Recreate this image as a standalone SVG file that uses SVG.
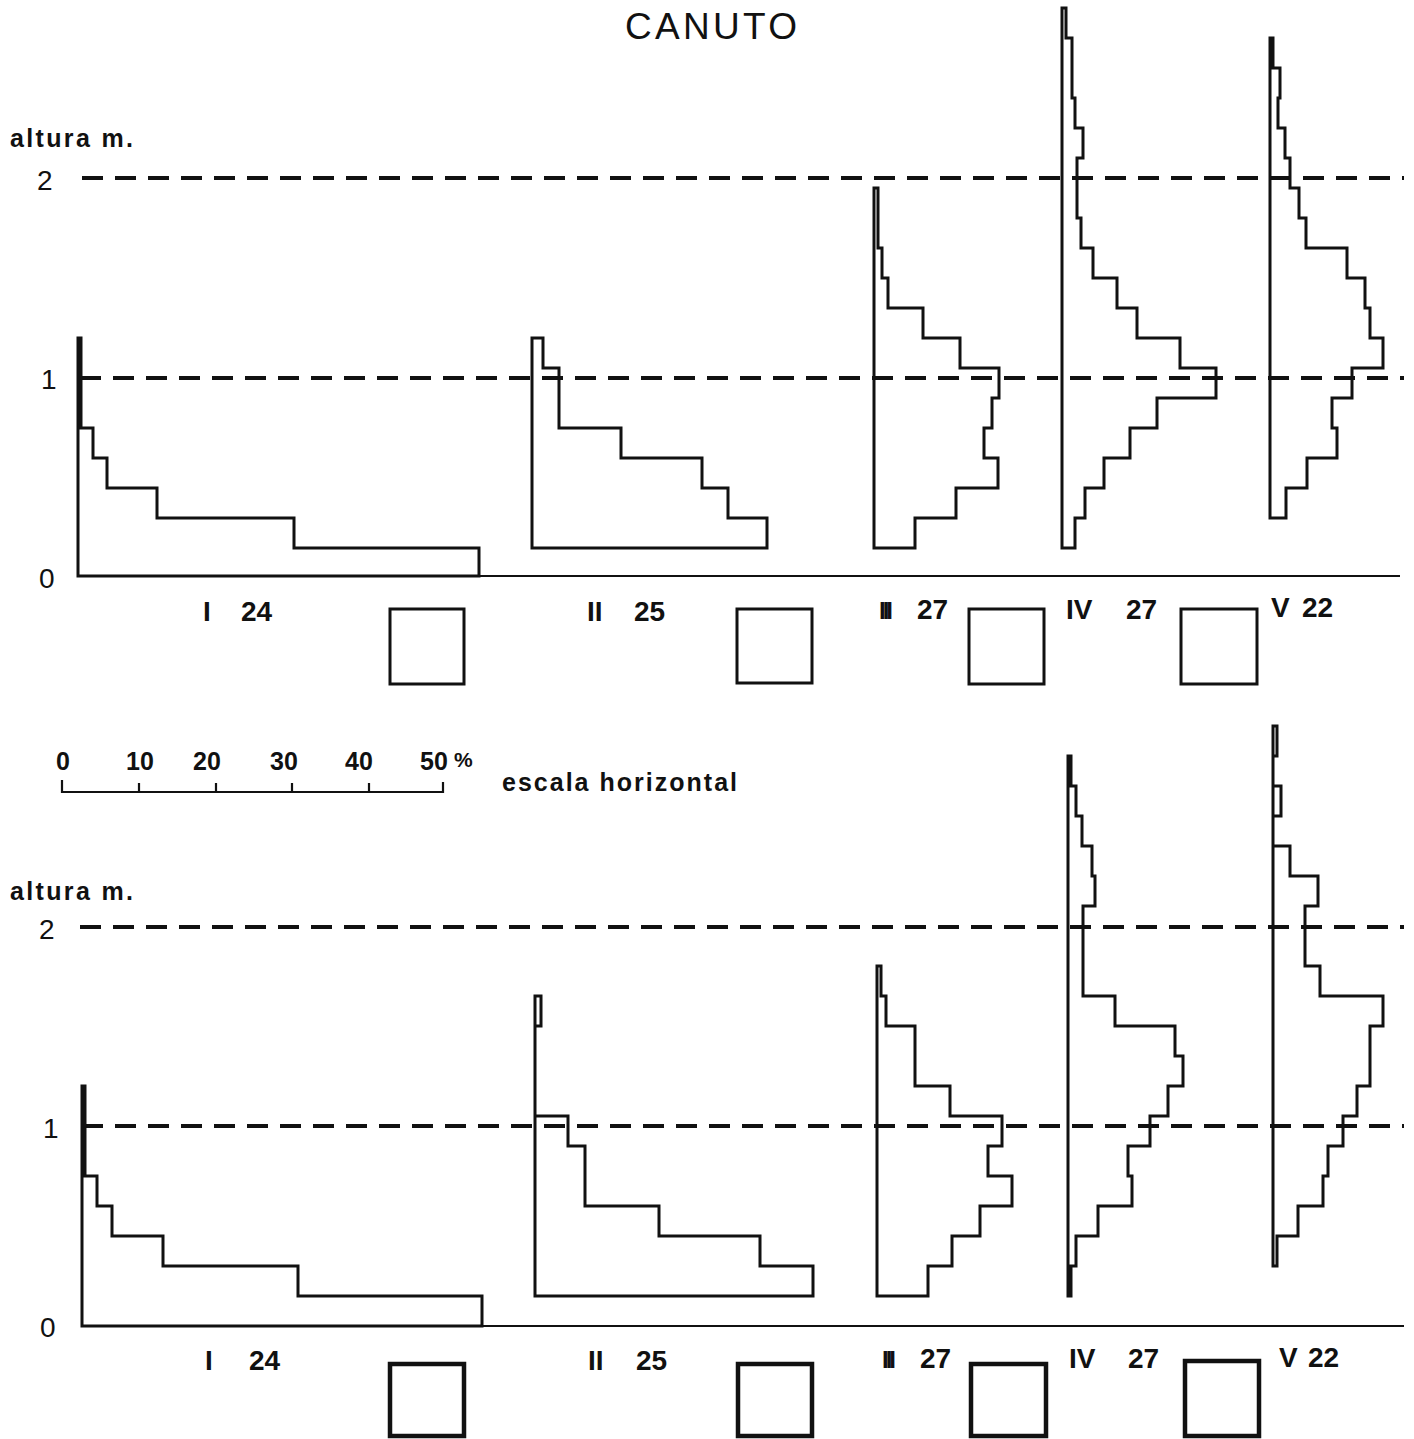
<svg xmlns="http://www.w3.org/2000/svg" width="1414" height="1439" viewBox="0 0 1414 1439">
<style>
  .bg{fill:#ffffff}
  .hist{fill:none;stroke:#111;stroke-width:3;stroke-linejoin:miter}
  .axis{fill:none;stroke:#111;stroke-width:2.2}
  .dash{fill:none;stroke:#111;stroke-width:3.8;stroke-dasharray:21 12}
  .box{fill:none;stroke:#111;stroke-width:3}
  .boxb{fill:none;stroke:#111;stroke-width:4.5}
  .t{font-family:"Liberation Sans","DejaVu Sans",Arial,sans-serif;fill:#111}
  .lbl{font-size:28px;font-weight:bold}
  .num{font-size:28px}
  .small{font-size:25px;font-weight:bold}
</style>
<rect class="bg" x="0" y="0" width="1414" height="1439"/>

<g id="title">
  <text class="t" x="625" y="39" font-size="37" textLength="172" lengthAdjust="spacing">CANUTO</text>
</g>

<g id="top-axes">
  <text class="t small" x="10" y="147" textLength="123" lengthAdjust="spacing">altura m.</text>
  <text class="t num" x="37" y="190">2</text>
  <text class="t num" x="41" y="389">1</text>
  <text class="t num" x="39" y="588">0</text>
  <path class="axis" d="M78,576 H1400"/>
  <path class="dash" d="M82,178 H1404"/>
  <path class="dash" d="M80,378 H1404"/>
</g>

<g id="top-I">
  <path class="hist" d="M78,338 H81 V428 H93 V458 H107 V488 H157 V518 H294 V548 H479 V576 H78 Z"/>
  <text class="t lbl" y="621"><tspan x="203">I</tspan><tspan x="241">24</tspan></text>
  <rect class="box" x="390" y="609" width="74" height="75"/>
</g>
<g id="top-II">
  <path class="hist" d="M532,338 H543 V368 H559 V428 H621 V458 H702 V488 H728 V518 H767 V548 H532 Z"/>
  <text class="t lbl" y="621"><tspan x="587">II</tspan><tspan x="634">25</tspan></text>
  <rect class="box" x="737" y="609" width="75" height="74"/>
</g>
<g id="top-III">
  <path class="hist" d="M874,188 H878 V248 H882 V278 H888 V308 H923 V338 H960 V368 H999 V398 H992 V428 H984 V458 H998 V488 H956 V518 H915 V548 H874 Z"/>
  <text class="t lbl" y="619"><tspan x="879" font-size="24" letter-spacing="-3">III</tspan><tspan x="917">27</tspan></text>
  <rect class="box" x="969" y="609" width="75" height="75"/>
</g>
<g id="top-IV">
  <path class="hist" d="M1062,8 H1066 V38 H1072 V98 H1075 V128 H1083 V158 H1077 V218 H1081 V248 H1093 V278 H1117 V308 H1137 V338 H1180 V368 H1216 V398 H1157 V428 H1130 V458 H1104 V488 H1085 V518 H1075 V548 H1062 Z"/>
  <text class="t lbl" y="619"><tspan x="1066">IV</tspan><tspan x="1126">27</tspan></text>
  <rect class="box" x="1181" y="609" width="76" height="75"/>
</g>
<g id="top-V">
  <path class="hist" d="M1270,38 H1273 V68 H1280 V98 H1278 V128 H1285 V158 H1290 V188 H1299 V218 H1306 V248 H1347 V278 H1365 V308 H1370 V338 H1383 V368 H1352 V398 H1332 V428 H1337 V458 H1307 V488 H1286 V518 H1270 Z"/>
  <text class="t lbl" y="617"><tspan x="1271">V</tspan><tspan x="1302">22</tspan></text>
</g>

<g id="scale">
  <text class="t small" y="770"><tspan x="56">0</tspan><tspan x="126">10</tspan><tspan x="193">20</tspan><tspan x="270">30</tspan><tspan x="345">40</tspan><tspan x="420">50</tspan><tspan x="454" font-size="21" dy="-3">%</tspan></text>
  <path class="axis" d="M62,780 V792 H443 V782 M139,783 V792 M216,783 V792 M292,783 V792 M369,783 V792"/>
  <text class="t small" x="502" y="791" textLength="235" lengthAdjust="spacing">escala horizontal</text>
</g>

<g id="bottom-axes">
  <text class="t small" x="10" y="900" textLength="123" lengthAdjust="spacing">altura m.</text>
  <text class="t num" x="39" y="939">2</text>
  <text class="t num" x="43" y="1138">1</text>
  <text class="t num" x="40" y="1337">0</text>
  <path class="axis" d="M82,1326 H1404"/>
  <path class="dash" d="M80,927 H1404"/>
  <path class="dash" d="M82,1126 H1404"/>
</g>

<g id="bottom-I">
  <path class="hist" d="M82,1086 H85 V1176 H97 V1206 H112 V1236 H163 V1266 H298 V1296 H482 V1326 H82 Z"/>
  <text class="t lbl" y="1370"><tspan x="205">I</tspan><tspan x="249">24</tspan></text>
  <rect class="boxb" x="390" y="1364" width="74" height="72"/>
</g>
<g id="bottom-II">
  <path class="hist" d="M535,996 H541 V1026 H535 V1116 H568 V1146 H585 V1206 H659 V1236 H760 V1266 H813 V1296 H535 Z"/>
  <text class="t lbl" y="1370"><tspan x="588">II</tspan><tspan x="636">25</tspan></text>
  <rect class="boxb" x="738" y="1364" width="74" height="72"/>
</g>
<g id="bottom-III">
  <path class="hist" d="M877,966 H881 V996 H886 V1026 H915 V1086 H950 V1116 H1002 V1146 H988 V1176 H1012 V1206 H980 V1236 H952 V1266 H928 V1296 H877 Z"/>
  <text class="t lbl" y="1368"><tspan x="882" font-size="24" letter-spacing="-3">III</tspan><tspan x="920">27</tspan></text>
  <rect class="boxb" x="971" y="1364" width="75" height="72"/>
</g>
<g id="bottom-IV">
  <path class="hist" d="M1068,756 H1071 V786 H1076 V816 H1082 V846 H1092 V876 H1095 V906 H1083 V996 H1115 V1026 H1175 V1056 H1183 V1086 H1168 V1116 H1150 V1146 H1128 V1176 H1132 V1206 H1098 V1236 H1076 V1266 H1071 V1296 H1068 Z"/>
  <text class="t lbl" y="1368"><tspan x="1069">IV</tspan><tspan x="1128">27</tspan></text>
  <rect class="boxb" x="1185" y="1361" width="74" height="75"/>
</g>
<g id="bottom-V">
  <path class="hist" d="M1273,726 H1277 V756 H1273 V786 H1281 V816 H1273 V846 H1290 V876 H1318 V906 H1305 V966 H1320 V996 H1383 V1026 H1370 V1086 H1357 V1116 H1343 V1146 H1328 V1176 H1323 V1206 H1298 V1236 H1277 V1266 H1273 Z"/>
  <text class="t lbl" y="1367"><tspan x="1279">V</tspan><tspan x="1308">22</tspan></text>
</g>

<g id="connectors"></g>
</svg>
